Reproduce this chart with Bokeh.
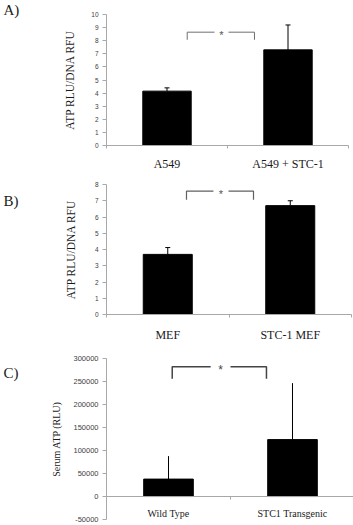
from bokeh.plotting import figure
from bokeh.models import Range1d, FixedTicker, Whisker, ColumnDataSource, TeeHead, NumeralTickFormatter
from bokeh.layouts import column
from bokeh.embed import file_html
from bokeh.resources import INLINE
from bokeh.core.properties import value

# ---------------- data ----------------
cats_A = ["A549", "A549 + STC-1"]
vals_A = [4.15, 7.3]
errs_A = [0.25, 1.9]
yticks_A = [0, 1, 2, 3, 4, 5, 6, 7, 8, 9, 10]
ylabel_A = "ATP RLU/DNA RFU"
# significance bracket: left, right, gap-left, gap-right, top, foot
sig_A = [0.667, 1.223, 0.893, 1.008, 8.65, 8.07]

cats_B = ["MEF", "STC-1 MEF"]
vals_B = [3.7, 6.7]
errs_B = [0.42, 0.3]
yticks_B = [0, 1, 2, 3, 4, 5, 6, 7, 8]
ylabel_B = "ATP RLU/DNA RFU"
sig_B = [0.653, 1.2, 0.873, 0.996, 7.59, 7.06]

cats_C = ["Wild Type", "STC1 Transgenic"]
vals_C = [38000, 124000]
errs_C = [50000, 123000]
yticks_C = [-50000, 0, 50000, 100000, 150000, 200000, 250000, 300000]
ylabel_C = "Serum ATP (RLU)"
sig_C = [0.53, 1.29, 0.84, 1.0, 282500, 256400]

panel_labels = ["A)", "B)", "C)"]

SERIF = "Liberation Serif"
SANS = "Liberation Sans"
W = 353


def make_panel(cats, vals, errs, yticks, ylabel, sig, tag, height, geom,
               tick_font, title_font, cat_font, title_standoff, cap, star_size,
               star_color, bracket_color, bracket_width, xaxis_at, label_py,
               cat_standoff):
    # geom: pixel positions of axis frame (left, right, top, bottom) on this canvas
    left, right, top, bottom = geom
    n = len(cats)
    ppx = (right - left) / n                       # pixels per x unit
    ppy = (bottom - top) / (yticks[-1] - yticks[0])  # pixels per y unit
    x_start = -left / ppx
    x_end = n + (W - right) / ppx
    y_start = yticks[0] - (height - bottom) / ppy
    y_end = yticks[-1] + top / ppy

    p = figure(width=W, height=height, output_backend="svg", toolbar_location=None,
               x_range=Range1d(x_start, x_end), y_range=Range1d(y_start, y_end),
               min_border=0, min_border_left=0, min_border_right=0,
               min_border_top=0, min_border_bottom=0)
    p.outline_line_color = None
    p.xgrid.visible = False
    p.ygrid.visible = False
    p.background_fill_color = "white"
    p.border_fill_color = "white"

    xs = [i + 0.5 for i in range(n)]
    src = ColumnDataSource(dict(x=xs, top=vals, upper=[v + e for v, e in zip(vals, errs)]))
    p.vbar(x="x", top="top", bottom=0, width=0.4, source=src,
           fill_color="black", line_color="black")
    head = TeeHead(size=cap, line_color="black", line_width=1) if cap else None
    p.add_layout(Whisker(source=src, base="x", upper="upper", lower="top",
                         dimension="height", line_color="black", line_width=1,
                         upper_head=head, lower_head=None))

    # significance bracket
    x0, x1, g0, g1, ytop, yfoot = sig
    p.multi_line(xs=[[x0, x0, g0], [g1, x1, x1]],
                 ys=[[yfoot, ytop, ytop], [ytop, ytop, yfoot]],
                 line_color=bracket_color, line_width=bracket_width)
    star_px = float(star_size.replace("px", ""))
    p.text(x=[(g0 + g1) / 2], y=[ytop], text=["*"], text_align="center",
           text_baseline="middle", text_font=value(SANS), text_font_size=star_size,
           text_color=star_color, y_offset=round(star_px * 0.25))

    # y axis (placed at x = 0 of the category scale)
    ya = p.yaxis[0]
    ya.fixed_location = 0
    ya.bounds = (yticks[0], yticks[-1])
    ya.ticker = FixedTicker(ticks=yticks)
    ya.formatter = NumeralTickFormatter(format="0")
    ya.axis_line_color = "#a8a8a8"
    ya.major_tick_line_color = "#a8a8a8"
    ya.major_tick_out = 4
    ya.major_tick_in = 0
    ya.minor_tick_line_color = None
    ya.major_label_text_font = SANS
    ya.major_label_text_font_size = tick_font
    ya.major_label_text_color = "#404040"
    ya.major_label_standoff = 4
    ya.axis_label = ylabel
    ya.axis_label_text_font = SERIF
    ya.axis_label_text_font_style = "normal"
    ya.axis_label_text_font_size = title_font
    ya.axis_label_text_color = "#1a1a1a"
    ya.axis_label_standoff = title_standoff

    # x axis
    xa = p.xaxis[0]
    xa.fixed_location = xaxis_at
    xa.bounds = (0, n)
    xa.ticker = FixedTicker(ticks=xs, minor_ticks=list(range(n + 1)))
    xa.major_label_overrides = {x: c for x, c in zip(xs, cats)}
    xa.axis_line_color = "#a8a8a8"
    xa.major_tick_line_color = None
    xa.major_tick_out = 0
    xa.major_tick_in = 0
    xa.minor_tick_line_color = "#a8a8a8"
    xa.minor_tick_out = 3
    xa.minor_tick_in = 0
    xa.major_label_text_font = SERIF
    xa.major_label_text_font_size = cat_font
    xa.major_label_text_color = "#1a1a1a"
    xa.major_label_standoff = cat_standoff

    # panel letter, placed at a canvas pixel position
    lx = x_start + 3 / ppx
    ly = y_end - label_py / ppy
    p.text(x=[lx], y=[ly], text=[tag], text_align="left", text_baseline="middle",
           text_font=value(SERIF), text_font_size="15px", text_color="#1a1a1a")
    return p


pA = make_panel(cats_A, vals_A, errs_A, yticks_A, ylabel_A, sig_A, panel_labels[0],
                170, (106, 348, 14, 145), "6.5px", "11.5px", "12px", 12, 5, "11px",
                "#555555", "#707070", 1, yticks_A[0], 9, 8)
pB = make_panel(cats_B, vals_B, errs_B, yticks_B, ylabel_B, sig_B, panel_labels[1],
                172, (106, 351, 14, 144), "6.5px", "11.5px", "12px", 15, 5, "11px",
                "#555555", "#606060", 1.2, yticks_B[0], 30, 10)
pC = make_panel(cats_C, vals_C, errs_C, yticks_C, ylabel_C, sig_C, panel_labels[2],
                183, (106, 354, 16.3, 177), "7.5px", "10px", "10px", 8, 0, "12px",
                "#444444", "#444444", 1.5, 0, 30, 8)

layout = column(pA, pB, pC, spacing=0)
open("out.html", "w").write(file_html(layout, INLINE))
